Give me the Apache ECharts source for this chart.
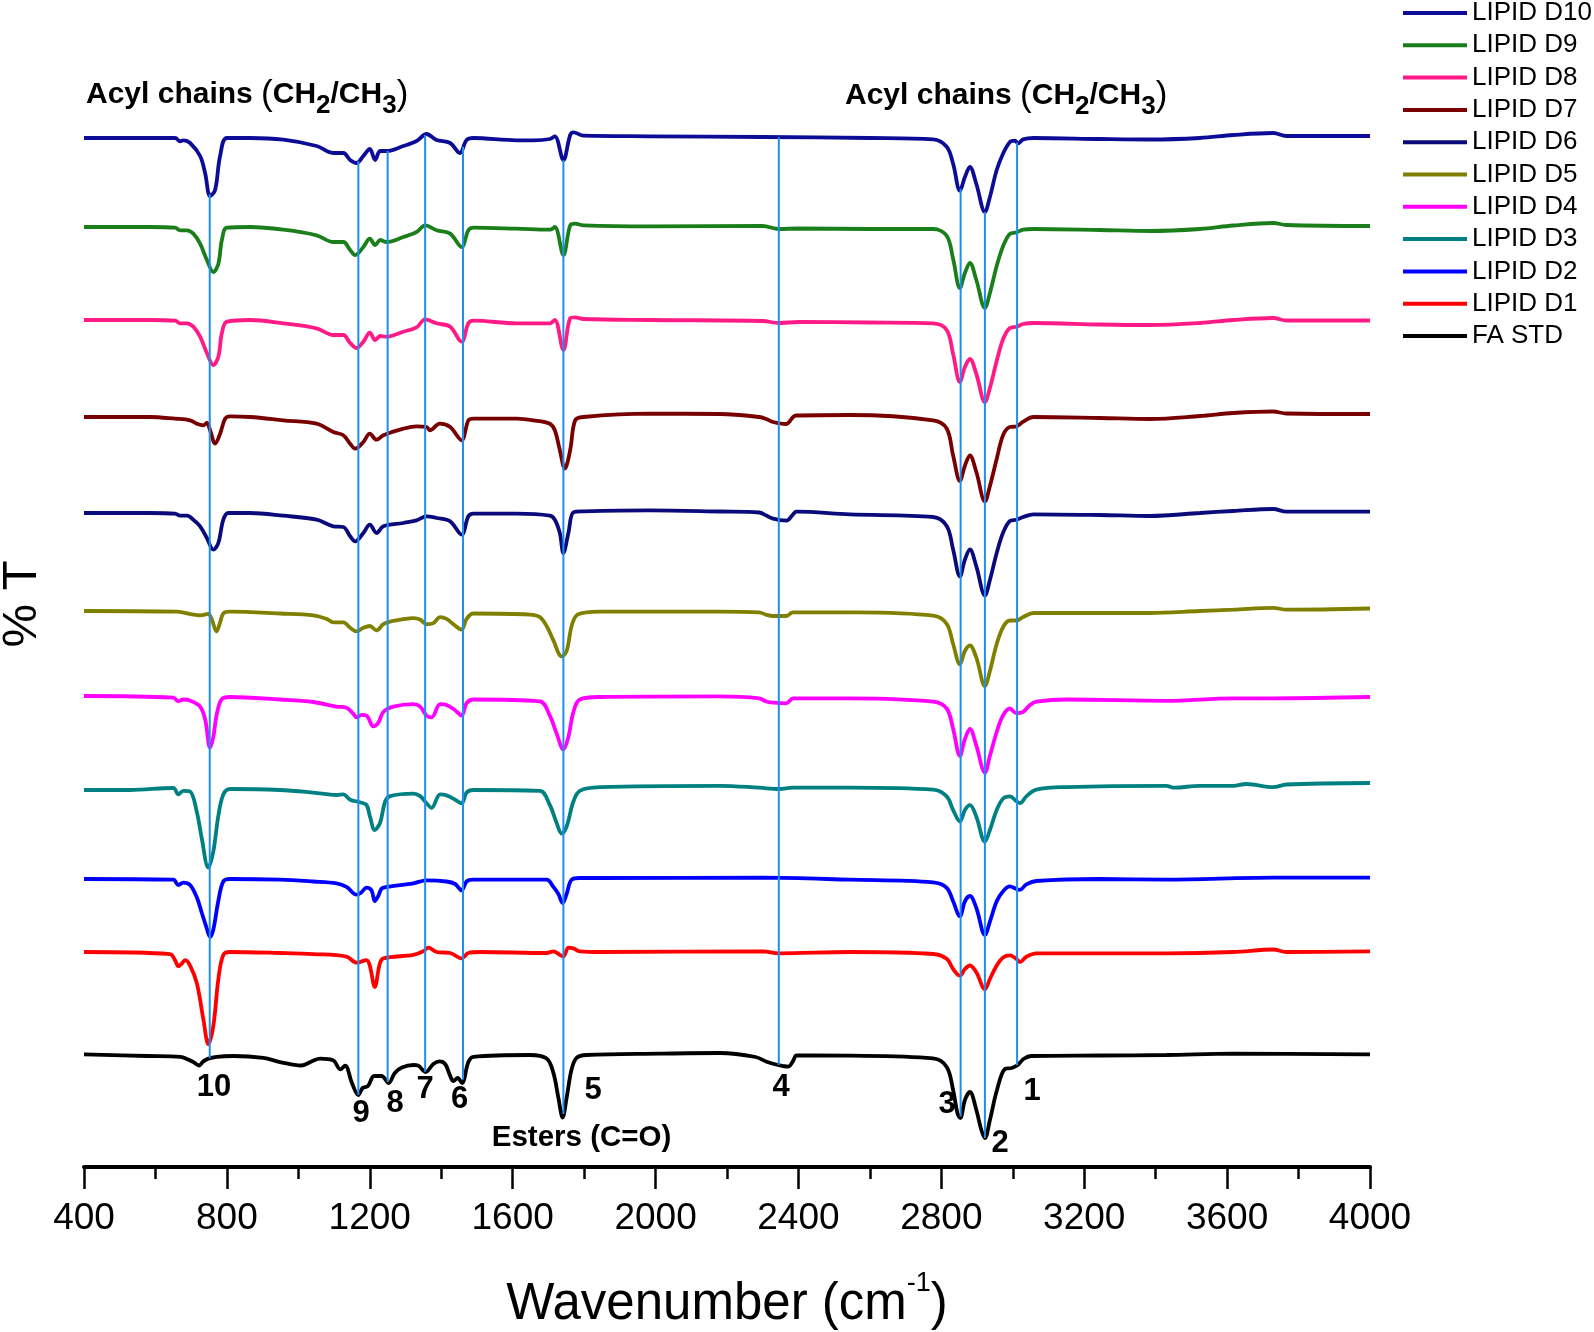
<!DOCTYPE html>
<html><head><meta charset="utf-8">
<script src="https://cdn.jsdelivr.net/npm/echarts@6/dist/echarts.min.js"></script>
<style>html,body{margin:0;padding:0;background:#fff}#c{width:1594px;height:1332px}</style>
</head><body><div id="c"></div>
<script>
// ---- data: [wavenumber, relative %T (arbitrary units)] ----
const specD10 = [[400,0],[585,0],[655,0],[669,-3.3],[678,-2.3],[697,-5],[725,-18],[739,-35],[753,-58],[767,-52],[781,-18],[800,0],[865,0],[958,-1.7],[1051,-8],[1098,-15],[1126,-15],[1145,-22],[1163,-25],[1182,-18],[1200,-11],[1215,-22],[1229,-13],[1247,-13],[1294,-8],[1331,-3],[1359,4],[1387,-2],[1425,-5],[1452,-15],[1471,-2],[1490,0],[1611,-2.3],[1658,-2.3],[1704,-1],[1718,1.7],[1742,-22],[1761,3],[1770,5.7],[1798,2.3],[1984,1.7],[2300,1],[2600,0],[2777,-1.4],[2815,-8.8],[2833,-25.7],[2852,-52.7],[2866,-39],[2880,-29],[2898,-46],[2922,-74],[2936,-59],[2955,-32],[2973,-15.5],[2992,-4],[3006,-2.7],[3015,-5.4],[3029,-1.4],[3058,0],[3244,-1],[3384,-1.5],[3524,0],[3617,3],[3729,5],[3766,2],[4000,2]];
const specD9 = [[400,0],[585,0],[655,-0.7],[669,-3.3],[688,-3.3],[706,-6.7],[725,-16.7],[744,-33],[762,-45],[776,-37],[786,-13],[800,-0.7],[865,0],[958,-2.7],[1051,-8.3],[1098,-15],[1126,-15],[1145,-23],[1159,-28],[1182,-20],[1200,-11.7],[1215,-18],[1229,-13],[1247,-15],[1294,-10],[1331,-5],[1355,1.7],[1387,-3.3],[1425,-6.7],[1457,-20],[1476,-3.3],[1490,-0.7],[1611,-1.7],[1704,-2.7],[1718,0],[1742,-28],[1761,1.7],[1775,3.3],[1798,1.7],[1984,0.7],[2300,1],[2345,-2],[2400,-1.5],[2600,-2],[2777,-2],[2815,-8.8],[2833,-32],[2852,-61],[2866,-46],[2880,-36],[2898,-53],[2922,-81],[2936,-66],[2955,-39],[2973,-19],[2992,-6.8],[3010,-5.4],[3029,-2.7],[3058,-2],[3244,-3],[3384,-4],[3524,-2],[3617,1.5],[3729,4],[3766,2],[4000,1]];
const specD8 = [[400,0],[585,0],[655,-0.7],[669,-3.3],[688,-3.3],[706,-6.7],[725,-16.7],[744,-33],[762,-45],[776,-37],[786,-13],[800,-1.7],[865,0],[958,-3.3],[1051,-8.3],[1098,-15],[1126,-15],[1145,-23],[1163,-28],[1182,-21.7],[1200,-12.7],[1215,-20],[1229,-16],[1247,-16.7],[1294,-11.7],[1331,-7.3],[1355,0.7],[1387,-3.3],[1425,-6.7],[1457,-21.7],[1476,-3.3],[1490,-0.7],[1611,-3.3],[1704,-3.3],[1718,0],[1742,-30],[1761,1.7],[1775,2.7],[1798,1],[1984,0],[2300,-1],[2345,-3],[2400,-2],[2600,-2.5],[2777,-3.4],[2815,-10],[2833,-34],[2852,-62],[2866,-47],[2880,-39],[2898,-54],[2922,-82],[2936,-68],[2955,-41],[2973,-19],[2992,-8],[3010,-6.8],[3029,-4],[3058,-3],[3244,-4.5],[3384,-5],[3524,-3],[3617,0],[3729,2],[3766,-0.5],[4000,-0.5]];
const specD7 = [[400,0],[585,0],[655,-1.7],[697,-3.3],[716,-6.7],[734,-8.3],[744,-6],[753,-13.3],[767,-26.7],[781,-16.7],[795,-1.7],[809,0.7],[865,0],[958,-3.3],[1051,-6.7],[1098,-15],[1126,-18.3],[1145,-26.7],[1159,-31.7],[1182,-25],[1200,-16.7],[1219,-22.7],[1238,-18.3],[1294,-11.7],[1331,-9.3],[1359,-10],[1368,-13.3],[1396,-6.7],[1425,-10],[1457,-23.3],[1476,-3.3],[1490,-1.7],[1611,-1.7],[1658,-3.3],[1704,-6.7],[1718,-13.3],[1732,-33],[1746,-51.7],[1761,-33],[1775,-3.3],[1798,0],[1984,3.3],[2180,3],[2290,0],[2310,-2],[2329,-5],[2366,-7],[2385,0],[2394,1.5],[2544,2],[2777,-3.4],[2815,-11.5],[2833,-38.5],[2852,-64],[2866,-48.7],[2880,-38.5],[2898,-55],[2922,-84.5],[2936,-69],[2955,-42],[2973,-18],[2992,-10],[3010,-9.5],[3029,-4.7],[3058,0],[3244,-1],[3384,-2],[3524,1],[3617,4],[3729,5.5],[3766,3.5],[4000,3]];
const specD6 = [[400,0],[585,0],[655,-0.7],[669,-2.7],[688,-2.7],[706,-6.7],[725,-13.3],[744,-25],[762,-36.7],[776,-30],[790,-6.7],[804,0],[865,0],[958,-2.7],[1051,-6.7],[1098,-13.3],[1126,-14],[1145,-23.3],[1159,-28.3],[1182,-20],[1200,-11.7],[1219,-20],[1238,-13.3],[1294,-10],[1331,-7.3],[1359,-3.3],[1387,-5],[1425,-8.3],[1457,-21.7],[1476,-3.3],[1490,-0.7],[1611,-0.7],[1704,-2.7],[1718,-6.7],[1732,-20],[1742,-40],[1756,-20],[1770,0.7],[1798,1.7],[1984,2.7],[2180,1.5],[2290,0.5],[2310,-2.5],[2329,-5.7],[2366,-7.7],[2385,-1.3],[2394,1.3],[2544,-1.4],[2777,-4],[2815,-13],[2833,-36.5],[2852,-63.5],[2866,-46.6],[2880,-36.5],[2898,-53.4],[2922,-82.5],[2936,-67],[2955,-40],[2973,-19.6],[2992,-8],[3010,-6.8],[3029,-4],[3058,-1.3],[3244,-2],[3384,-3],[3524,0],[3617,2],[3729,4],[3766,1.3],[4000,1.3]];
const specD5 = [[400,0],[660,-0.7],[706,-3.6],[725,-4.3],[748,-2.9],[757,-7.9],[771,-20.4],[781,-11.4],[790,-2.5],[809,-0.7],[949,-2.5],[1042,-4.3],[1079,-7.9],[1098,-11.4],[1126,-11.4],[1145,-16.8],[1163,-20.4],[1182,-16.8],[1200,-15],[1219,-19.3],[1238,-13.2],[1257,-10.7],[1322,-7.1],[1341,-8.6],[1359,-13.2],[1378,-12.1],[1397,-6.1],[1415,-7.9],[1434,-13.2],[1457,-18.6],[1471,-7.9],[1490,-2.5],[1648,-3.6],[1676,-6.1],[1695,-15],[1714,-29.3],[1737,-45.4],[1751,-40],[1765,-15],[1779,-4.3],[1807,-1.4],[1844,-0.7],[2180,-0.6],[2290,-1.3],[2310,-3.8],[2329,-5],[2366,-5],[2385,-1.3],[2544,-1.4],[2777,-4.7],[2815,-12.8],[2833,-33],[2852,-53.4],[2866,-40],[2880,-34.5],[2898,-46.6],[2922,-75],[2936,-60],[2955,-33],[2973,-16],[2992,-9.5],[3010,-9.5],[3029,-6],[3058,-2],[3244,-2],[3384,-2],[3524,0],[3617,1.3],[3729,3.2],[3766,1.3],[4000,2.5]];
const specD4 = [[400,1],[650,-0.7],[664,-4.3],[678,-2.5],[697,-3.6],[725,-9.6],[739,-22],[753,-50.7],[762,-40],[771,-18.6],[785,-2.5],[809,0],[949,-2.5],[1042,-5],[1107,-9.6],[1135,-10.7],[1154,-16.8],[1163,-20.4],[1177,-17.9],[1191,-18.6],[1210,-29.3],[1224,-25.7],[1238,-15],[1266,-9.6],[1322,-7.1],[1341,-9.6],[1359,-18.6],[1373,-20.4],[1397,-7.1],[1415,-7.9],[1439,-13.2],[1457,-18.6],[1471,-6.1],[1490,-2.5],[1676,-4.3],[1704,-18.6],[1723,-36.4],[1742,-52.5],[1756,-40],[1770,-15],[1788,-2.5],[1844,0],[2180,0.6],[2290,-1.3],[2310,-4.5],[2329,-5.7],[2366,-6.4],[2385,-1.3],[2544,-1.4],[2777,-4.7],[2815,-11.5],[2833,-31.8],[2852,-58.8],[2866,-42],[2880,-31.8],[2898,-48.7],[2922,-75.7],[2936,-58.8],[2955,-35],[2973,-18.3],[2992,-11.5],[3010,-16.2],[3029,-14.9],[3048,-8],[3066,-4.7],[3150,-2.5],[3430,-3.8],[3617,-1.3],[3729,-1.3],[4000,0]];
const specD3 = [[400,-1],[529,-1],[650,1],[664,-5.4],[678,-1.8],[697,-2.5],[716,-23.2],[729,-48],[748,-78.6],[762,-62.5],[776,-27],[790,-5.4],[809,0],[949,-1],[1042,-3.6],[1107,-6],[1126,-5.4],[1145,-10.7],[1172,-13.2],[1191,-16],[1200,-26.8],[1214,-41],[1229,-33.6],[1243,-12.5],[1257,-7.1],[1322,-4.6],[1341,-7.1],[1359,-14.3],[1373,-18.9],[1397,-5.4],[1415,-6.4],[1439,-10.7],[1457,-14.3],[1471,-3.6],[1490,-1],[1676,-1.8],[1704,-16],[1723,-33.9],[1737,-44.6],[1751,-37.5],[1770,-12.5],[1788,-1.8],[1844,1.8],[2180,3.2],[2290,1.3],[2345,0],[2385,1.3],[2544,1.4],[2777,-0.7],[2815,-7.4],[2833,-21],[2852,-32.5],[2866,-21],[2880,-16.2],[2898,-27.7],[2922,-52.7],[2936,-41],[2955,-21],[2973,-9.5],[2992,-7.4],[3010,-12.2],[3020,-14.2],[3038,-7.4],[3066,-0.7],[3150,1.9],[3430,3.2],[3450,1.3],[3524,3.2],[3617,3.2],[3654,5],[3729,1.9],[3766,4.5],[4000,6]];
const specD2 = [[400,0],[650,-0.7],[664,-6],[678,-3.6],[697,-6],[716,-18.6],[729,-33],[743,-48.6],[753,-57.9],[762,-50.7],[776,-22],[790,-2.5],[809,0],[949,-0.7],[1042,-2.5],[1107,-4.3],[1135,-7.9],[1163,-15.7],[1177,-13.2],[1191,-8.6],[1205,-11.4],[1214,-22],[1224,-16.8],[1233,-9.6],[1247,-7.9],[1322,-4.3],[1359,-1.4],[1415,-2.5],[1439,-5],[1457,-11.4],[1471,-2.5],[1490,-0.7],[1695,-0.7],[1714,-7.9],[1728,-15],[1740,-24],[1751,-15],[1765,-0.7],[1788,1],[1844,1],[2300,1.3],[2544,-0.7],[2777,-3.4],[2815,-8.8],[2833,-22.3],[2852,-37.2],[2866,-22.3],[2880,-17],[2898,-29],[2922,-56],[2936,-42.6],[2955,-22.3],[2973,-12.2],[2992,-7.4],[3010,-10],[3020,-10.8],[3038,-5.4],[3066,-2],[3244,0],[3430,-0.6],[3729,1.3],[4000,1.3]];
const specD1 = [[400,0],[641,-2.1],[655,-8.2],[664,-14.3],[673,-11.8],[683,-8.2],[697,-13.6],[716,-31.4],[734,-67],[748,-92],[762,-74],[776,-27.5],[790,-2.9],[809,0],[949,-1],[1042,-2.1],[1135,-4.6],[1163,-10.7],[1191,-8.2],[1200,-13.6],[1214,-35],[1228,-11.8],[1238,-6.4],[1322,-2.9],[1350,0.7],[1364,4.3],[1387,0],[1425,-1],[1457,-6.4],[1476,-1],[1508,0],[1695,-1],[1714,0.7],[1732,-2.9],[1742,-4.6],[1756,4.3],[1770,3.6],[1788,0.7],[1844,0],[2300,0.6],[2345,-1.3],[2544,0],[2777,-2],[2815,-6.8],[2833,-17],[2852,-23.7],[2866,-17],[2880,-13.5],[2898,-20.3],[2922,-37.2],[2936,-27],[2955,-13.5],[2973,-5.4],[2992,-3.4],[3010,-6.8],[3020,-10.1],[3038,-4.7],[3066,-1.4],[3244,-1.4],[3430,-1.3],[3617,0],[3729,2.5],[3766,0],[4000,0.6]];
const specFA = [[400,0.7],[576,-1],[669,-1.8],[706,-7.1],[722,-10.5],[734,-6.4],[748,-3.6],[771,-1.8],[818,-1],[902,-2.9],[949,-7.1],[1008,-10.5],[1040,-6],[1061,-3.6],[1098,-5.4],[1117,-14.3],[1131,-10.7],[1150,-28],[1168,-40],[1180,-33],[1195,-31],[1212,-21],[1233,-21],[1253,-28],[1270,-17.9],[1290,-12.5],[1322,-10],[1335,-10.5],[1356,-17],[1378,-9],[1395,-6.3],[1411,-9],[1424,-20],[1434,-26],[1446,-23],[1458,-28],[1476,-7.1],[1490,-1.8],[1648,0],[1695,-3.6],[1714,-17.9],[1728,-42.9],[1740,-62.5],[1751,-42.9],[1765,-14.3],[1779,-2.9],[1807,0],[2012,1.3],[2180,2],[2280,-2],[2311,-6.7],[2343,-10],[2371,-11.7],[2385,-6],[2395,-0.5],[2544,-0.7],[2777,-3.4],[2815,-12],[2833,-35],[2845,-58],[2853,-63],[2866,-45],[2880,-37],[2898,-55],[2912,-75],[2922,-83],[2936,-65],[2955,-36],[2978,-14],[2997,-13],[3014,-10],[3030,-4],[3052,-1],[3244,-0.5],[3430,0],[3617,1.3],[4000,0.6]];

const seriesNames = ['LIPID D10','LIPID D9','LIPID D8','LIPID D7','LIPID D6','LIPID D5','LIPID D4','LIPID D3','LIPID D2','LIPID D1','FA STD'];
const spectra = [specD10, specD9, specD8, specD7, specD6, specD5, specD4, specD3, specD2, specD1, specFA];
const offsets = [1029, 940, 847, 750, 654, 556, 470, 378, 288, 215, 112];
const bandWn = [3012, 2922, 2854, 2345, 1742, 1461, 1355, 1250, 1168, 752];
const bandLabels = ['1','2','3','4','5','6','7','8','9','10'];
const xTicks = {min: 400, max: 4000, interval: 400};

// ---- style ----
const colors = ['#0c0c96','#1a7f1a','#ff1a86','#780000','#0a0a7a','#808000','#ff00ff','#008080','#0000ff','#ff0000','#000000'];
const FONT = "'Liberation Sans', Arial, sans-serif";

function interp(arr, x){
  for(let i=0;i<arr.length-1;i++){
    const a=arr[i], b=arr[i+1];
    if(x>=a[0] && x<=b[0]){ const t=(x-a[0])/(b[0]-a[0]); return a[1]+t*(b[1]-a[1]); }
  }
  return arr[arr.length-1][1];
}

const series = spectra.map((s, i) => ({
  name: seriesNames[i], type: 'line', smooth: 0.35, symbol: 'none', silent: true,
  lineStyle: {color: colors[i], width: 3.8}, itemStyle: {color: colors[i]},
  data: s.map(p => [p[0], p[1] + offsets[i]]), z: 3
}));
bandWn.forEach((wn, k) => {
  const top = interp(specD10, wn) + offsets[0];
  const bot = interp(specFA, wn) + offsets[10];
  series.push({name: 'band' + bandLabels[k], type: 'line', symbol: 'none', silent: true,
    lineStyle: {color: '#1e8ff0', width: 2}, data: [[wn, bot], [wn, top]], z: 5});
});

const numPos = [[1032,1091],[1000,1143],[947,1104],[781,1087],[593,1090],[459.5,1099],[425,1089],[395,1103],[361,1113],[214,1087]];
const graphic = bandLabels.map((t, k) => ({type: 'text', x: numPos[k][0], y: numPos[k][1], z: 20,
  style: {text: t, font: 'bold 31px ' + FONT, fill: '#000', align: 'center', verticalAlign: 'middle', textAlign: 'center', textVerticalAlign: 'middle'}}));
const acylRich = {
  b: {fontFamily: FONT, fontWeight: 'bold', fontSize: 30, lineHeight: 40, color: '#000'},
  p: {fontFamily: FONT, fontWeight: 'normal', fontSize: 35, lineHeight: 40, color: '#000'},
  s: {fontFamily: FONT, fontWeight: 'bold', fontSize: 26, lineHeight: 40, color: '#000', padding: [22, 0, 0, 0]}
};
const acylText = '{b|Acyl chains }{p|(}{b|CH}{s|2}{b|/CH}{s|3}{p|)}';
graphic.push({type: 'text', left: 86, top: 71, z: 20, style: {text: acylText, rich: acylRich}});
graphic.push({type: 'text', left: 845, top: 72, z: 20, style: {text: acylText, rich: acylRich}});
graphic.push({type: 'text', x: 581.5, y: 1138, z: 20, style: {text: 'Esters (C=O)', font: 'bold 29.5px ' + FONT, fill: '#000', align: 'center', verticalAlign: 'middle', textAlign: 'center', textVerticalAlign: 'middle'}});
graphic.push({type: 'text', x: 22, y: 604, rotation: Math.PI / 2, z: 20, style: {text: '% T', font: '49px ' + FONT, fill: '#000', align: 'center', verticalAlign: 'middle', textAlign: 'center', textVerticalAlign: 'middle'}});

const chart = echarts.init(document.getElementById('c'), null, {renderer: 'canvas'});
chart.setOption({
  backgroundColor: '#fff',
  animation: false,
  textStyle: {fontFamily: FONT},
  grid: {left: 84, right: 224, top: 67, bottom: 165, containLabel: false, outerBoundsMode: 'none'},
  legend: {
    data: seriesNames, orient: 'vertical', left: 1403, top: 0, padding: 0,
    icon: 'rect', itemWidth: 64, itemHeight: 4, itemGap: 6.3,
    textStyle: {fontSize: 26, lineHeight: 26, color: '#000', fontFamily: FONT}
  },
  xAxis: {
    type: 'value', min: xTicks.min, max: xTicks.max, interval: xTicks.interval,
    axisLine: {onZero: false, lineStyle: {color: '#000', width: 4}},
    axisTick: {length: 22, lineStyle: {color: '#000', width: 2.5}},
    minorTick: {show: true, splitNumber: 2, length: 12, lineStyle: {color: '#000', width: 2.5}},
    splitLine: {show: false},
    axisLabel: {fontSize: 37, color: '#000', margin: 33, fontFamily: FONT, formatter: v => String(v)},
    name: '{a|Wavenumber (cm}{sup|-1}{a|)}', nameLocation: 'middle', nameGap: 112,
    nameTextStyle: {fontSize: 51, color: '#000', fontFamily: FONT,
      rich: {a: {fontSize: 51, lineHeight: 51, color: '#000', fontFamily: FONT},
             sup: {fontSize: 27, lineHeight: 27, color: '#000', fontFamily: FONT, padding: [0, 0, 42, 0]}}}
  },
  yAxis: {
    type: 'value', min: 0, max: 1100,
    axisLine: {show: false}, axisTick: {show: false}, axisLabel: {show: false}, splitLine: {show: false}
  },
  graphic: graphic,
  series: series
});
</script></body></html>
